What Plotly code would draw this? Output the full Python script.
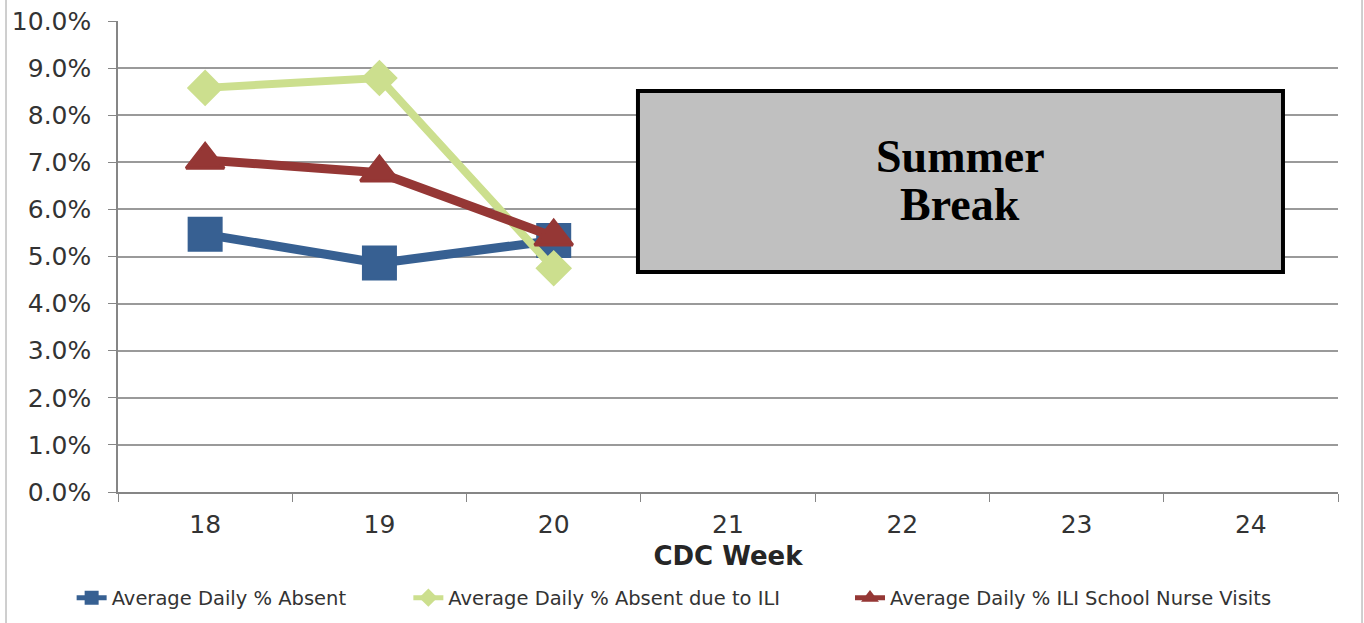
import plotly.graph_objects as go

weeks = ["18", "19", "20", "21", "22", "23", "24"]
data_weeks = ["18", "19", "20"]
absent = [0.0547, 0.0486, 0.0534]
absent_ili = [0.0858, 0.0879, 0.0475]
nurse_visits = [0.0705, 0.0678, 0.0542]
y_ticks = [i / 100 for i in range(0, 11)]

names = ["Average Daily % Absent", "Average Daily % Absent due to ILI",
         "Average Daily % ILI School Nurse Visits"]
colors = ["#376092", "#CCDF8E", "#953735"]

fig = go.Figure()
fig.add_trace(go.Scatter(x=weeks, y=[None] * len(weeks), mode="lines",
                         showlegend=False, hoverinfo="skip"))
fig.add_trace(go.Scatter(x=data_weeks, y=absent, name=names[0], mode="lines+markers",
                         line=dict(color=colors[0], width=9),
                         marker=dict(symbol="square", size=33, color=colors[0],
                                     line=dict(color=colors[0], width=2)),
                         legend="legend"))
fig.add_trace(go.Scatter(x=data_weeks, y=absent_ili, name=names[1], mode="lines+markers",
                         line=dict(color=colors[1], width=8),
                         marker=dict(symbol="diamond", size=26, color=colors[1],
                                     line=dict(color=colors[1], width=2)),
                         legend="legend2"))
fig.add_trace(go.Scatter(x=data_weeks, y=nurse_visits, name=names[2], mode="lines+markers",
                         line=dict(color=colors[2], width=9),
                         marker=dict(symbol="triangle-up", size=33, color=colors[2],
                                     line=dict(color=colors[2], width=3)),
                         legend="legend3"))

legend_common = dict(orientation="h", yanchor="middle", y=-0.225, xanchor="left",
                     font=dict(family="DejaVu Sans", size=19.5, color="#333333"),
                     bgcolor="rgba(0,0,0,0)", itemsizing="constant")

tick_font = dict(family="DejaVu Sans", size=25, color="#333333")

fig.update_layout(
    width=1364, height=623,
    margin=dict(l=118, r=26, t=21, b=131, autoexpand=False),
    plot_bgcolor="white", paper_bgcolor="white",
    legend=dict(**legend_common, x=-0.038),
    legend2=dict(**legend_common, x=0.238),
    legend3=dict(**legend_common, x=0.600),
    xaxis=dict(type="category", categoryorder="array", categoryarray=weeks,
               range=[-0.5, 6.5], tickson="boundaries", ticks="outside", ticklen=8,
               tickcolor="#868686", showline=True, linecolor="#868686", linewidth=1.5,
               showgrid=False, tickfont=tick_font, ticklabelstandoff=9, automargin=False,
               title=dict(text="<b>CDC Week</b>", font=dict(family="DejaVu Sans", size=26,
                                                           color="#262626"), standoff=9),
               fixedrange=True),
    yaxis=dict(range=[0, 0.10], tickvals=y_ticks, tickformat=".1%", ticks="outside",
               ticklen=8, tickcolor="#868686", showline=True, linecolor="#868686",
               linewidth=1.5, showgrid=True, gridcolor="#9a9a9a", gridwidth=1.5,
               tickfont=tick_font, ticklabelstandoff=12, zeroline=False, fixedrange=True,
               automargin=False),
    shapes=[
        dict(type="rect", xref="paper", yref="paper", x0=0.4262, x1=0.9549,
             y0=0.4671, y1=0.8514, fillcolor="#C0C0C0", line=dict(color="black", width=4),
             layer="above"),
        dict(type="line", xref="paper", yref="paper", x0=-0.0918, x1=-0.0918,
             y0=-0.3, y1=1.06, line=dict(color="#BFBFBF", width=1.5)),
        dict(type="line", xref="paper", yref="paper", x0=1.0197, x1=1.0197,
             y0=-0.3, y1=1.06, line=dict(color="#BFBFBF", width=1.5)),
    ],
    annotations=[
        dict(text="<b>Summer</b>", xref="paper", yref="paper", x=0.6902, y=0.7113,
             showarrow=False, xanchor="center", yanchor="middle",
             font=dict(family="Liberation Serif", size=46, color="black")),
        dict(text="<b>Break</b>", xref="paper", yref="paper", x=0.6902, y=0.6110,
             showarrow=False, xanchor="center", yanchor="middle",
             font=dict(family="Liberation Serif", size=46, color="black")),
    ],
)

fig.write_html("out.html", config={"displayModeBar": False},
               post_script="document.body.style.margin='0';")
